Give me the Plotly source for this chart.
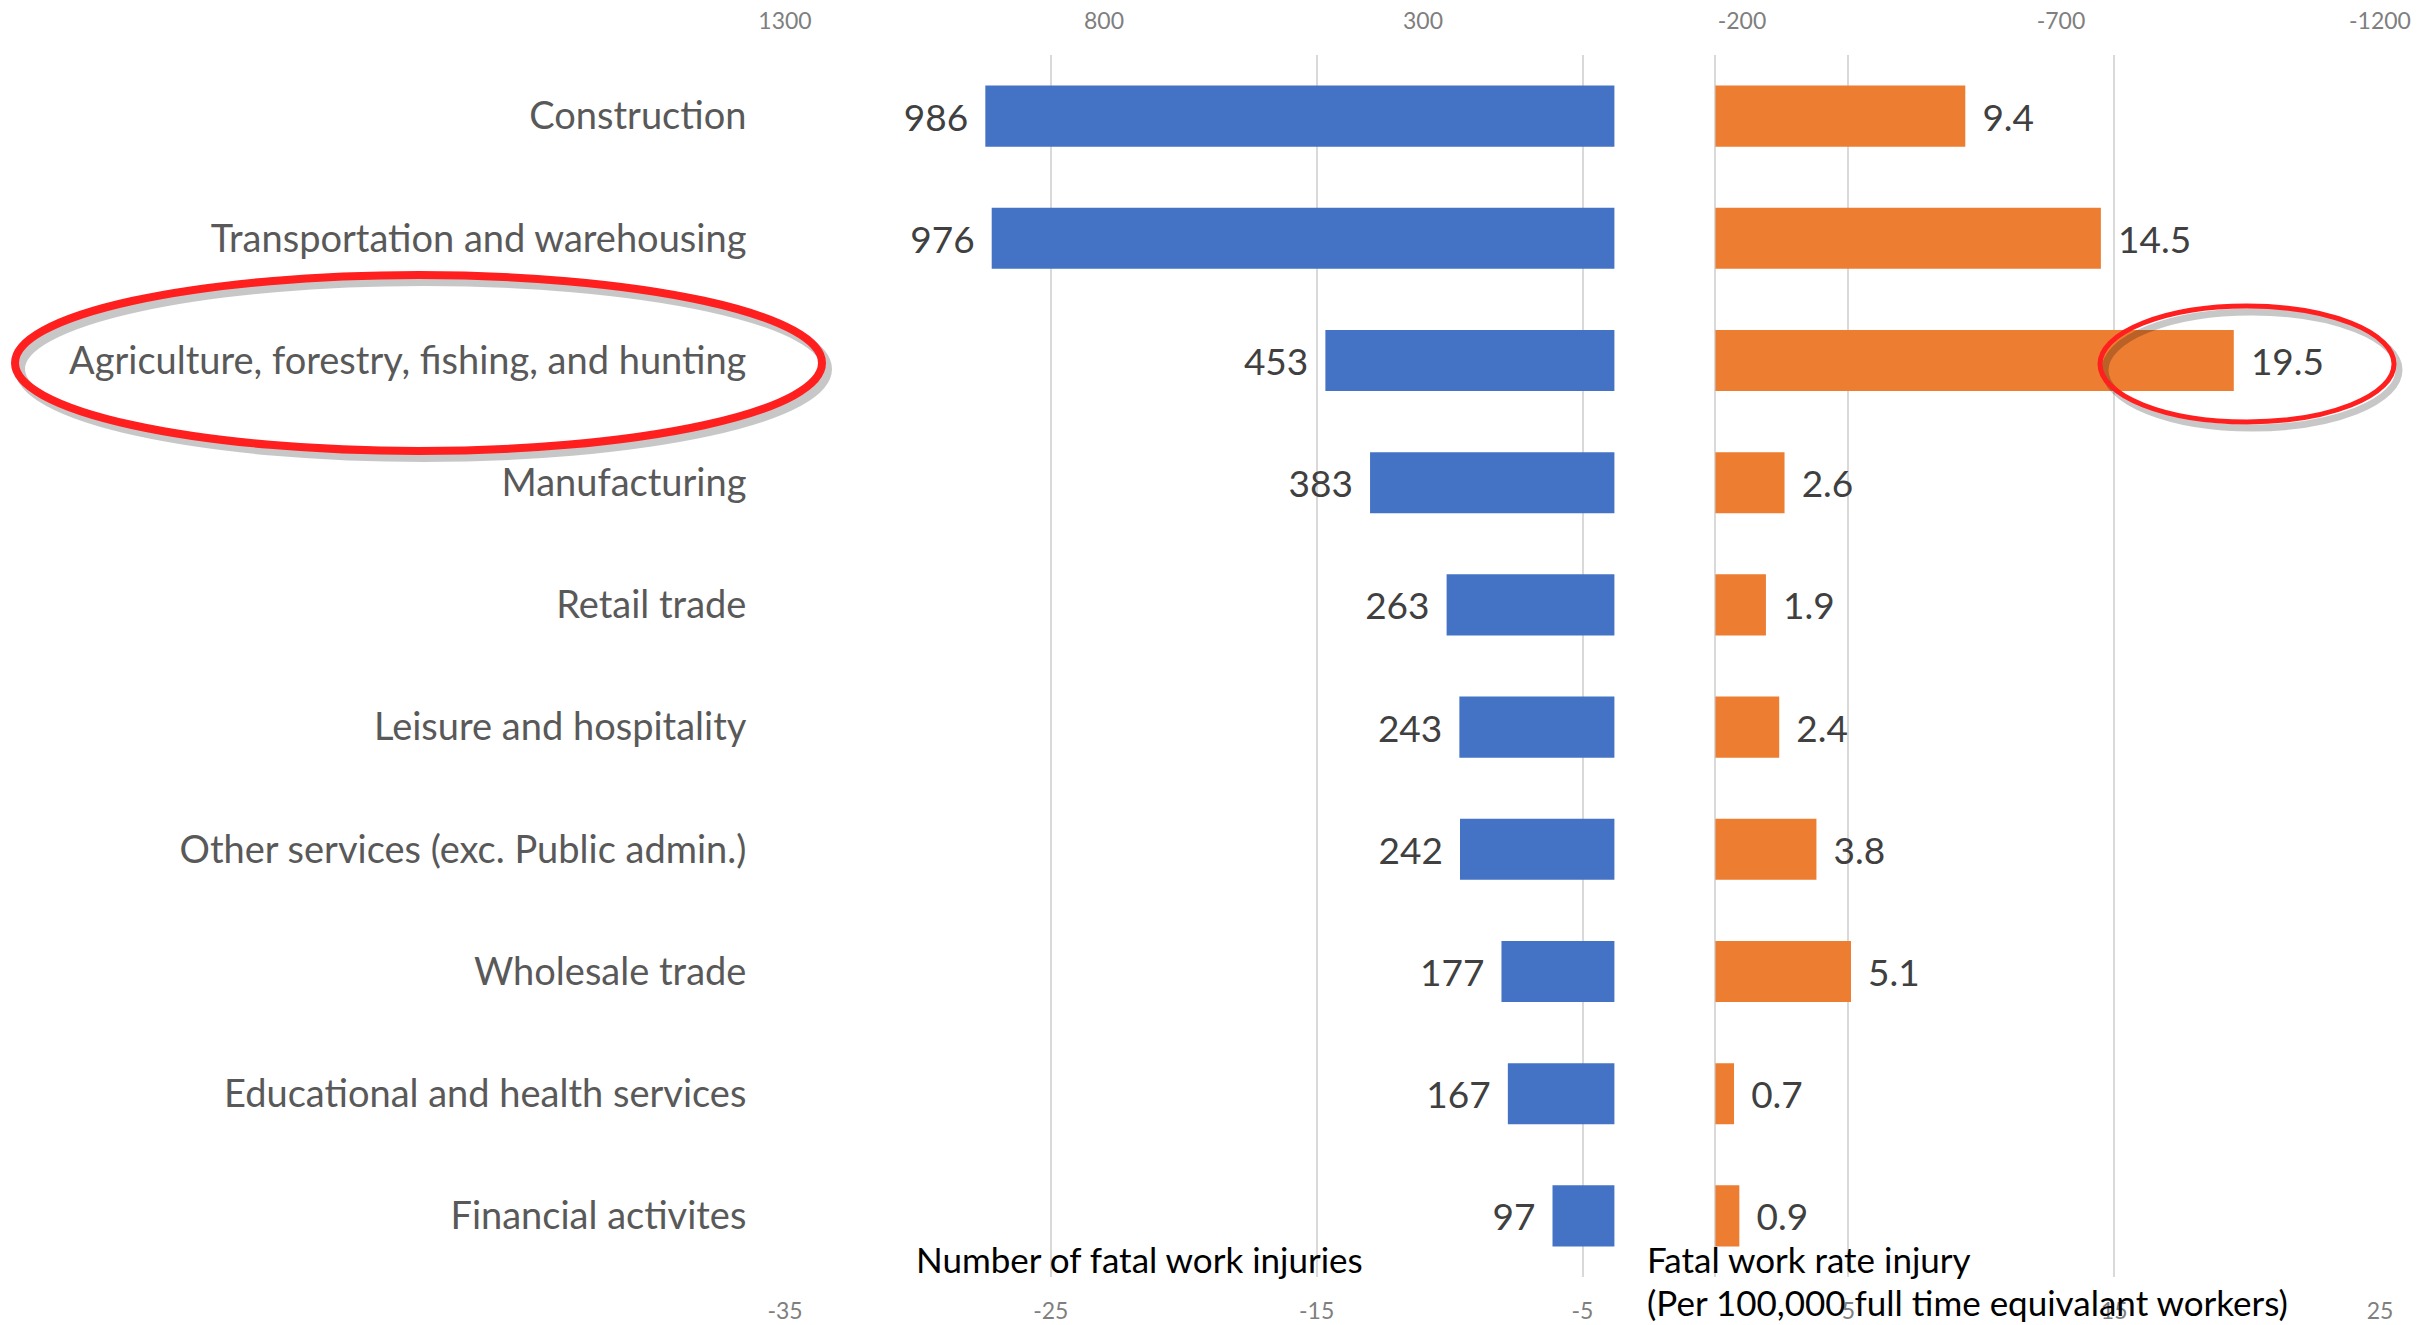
import plotly.graph_objects as go

industries = [
    "Construction",
    "Transportation and warehousing",
    "Agriculture, forestry, fishing, and hunting",
    "Manufacturing",
    "Retail trade",
    "Leisure and hospitality",
    "Other services (exc. Public admin.)",
    "Wholesale trade",
    "Educational and health services",
    "Financial activites",
]
fatal_injuries = [986, 976, 453, 383, 263, 243, 242, 177, 167, 97]
fatal_rate = [9.4, 14.5, 19.5, 2.6, 1.9, 2.4, 3.8, 5.1, 0.7, 0.9]

top_ticks = [1300, 800, 300, -200, -700, -1200]
bottom_ticks = [-35, -25, -15, -5, 5, 15, 25]

BLUE = "#4472C4"
ORANGE = "#ED7D31"
FONT = "Lato"
GAP = "\u00a0\u2009"

fig = go.Figure()
fig.add_trace(go.Bar(
    y=industries, x=fatal_injuries, orientation="h", xaxis="x2", yaxis="y",
    marker=dict(color=BLUE, line=dict(width=0)),
    text=[f"{v}{GAP}" for v in fatal_injuries], textposition="outside",
    textfont=dict(family=FONT, size=37, color="#404040"),
    constraintext="none", cliponaxis=False, showlegend=False,
))
fig.add_trace(go.Bar(
    y=industries, x=fatal_rate, orientation="h", xaxis="x", yaxis="y",
    marker=dict(color=ORANGE, line=dict(width=0)),
    text=[f"{GAP}{v}" for v in fatal_rate], textposition="outside",
    textfont=dict(family=FONT, size=37, color="#404040"),
    constraintext="none", cliponaxis=False, showlegend=False,
))

L, R, T, B = 785, 42, 55, 48
W, H = 2422, 1325
pw, ph = W - L - R, H - T - B

def px(x):
    return (x - L) / pw

def py(y):
    return (H - B - y) / ph

fig.update_layout(
    width=W, height=H,
    margin=dict(l=L, r=R, t=T, b=B, pad=0, autoexpand=False),
    paper_bgcolor="white", plot_bgcolor="white",
    barmode="overlay", bargap=0.5,
    font=dict(family=FONT, color="#595959"),
    xaxis=dict(
        range=[bottom_ticks[0], bottom_ticks[-1]], automargin=False,
        tickvals=bottom_ticks, ticktext=[str(t) for t in bottom_ticks],
        showgrid=True, gridcolor="#d9d9d9", gridwidth=2,
        zeroline=True, zerolinecolor="#d9d9d9", zerolinewidth=2,
        showline=False, ticks="outside", ticklen=13, tickcolor="rgba(0,0,0,0)",
        tickfont=dict(family=FONT, size=23, color="#7f7f7f"),
    ),
    xaxis2=dict(
        overlaying="x", side="top", automargin=False,
        range=[top_ticks[0], top_ticks[-1]],
        tickvals=top_ticks, ticktext=[str(t) for t in top_ticks],
        showgrid=False, zeroline=False, showline=False,
        ticks="outside", ticklen=16, tickcolor="rgba(0,0,0,0)",
        tickfont=dict(family=FONT, size=23, color="#7f7f7f"),
    ),
    yaxis=dict(
        type="category", range=[len(industries) - 0.5, -0.5], automargin=False,
        showgrid=False, zeroline=False, showline=False,
        ticks="outside", ticklen=30, tickcolor="rgba(0,0,0,0)",
        tickfont=dict(family=FONT, size=38, color="#595959"),
    ),
)

# hand-drawn style highlight ellipses (with a soft shadow)
for (x0, y0, x1, y1, w) in [(15, 275, 822, 451, 8), (2100, 306, 2394, 422, 5)]:
    fig.add_shape(type="circle", xref="paper", yref="paper",
                  x0=px(x0 + 5), x1=px(x1 + 5), y0=py(y0 + 6), y1=py(y1 + 6),
                  line=dict(color="rgba(0,0,0,0.22)", width=w + 2), layer="above")
    fig.add_shape(type="circle", xref="paper", yref="paper",
                  x0=px(x0), x1=px(x1), y0=py(y0), y1=py(y1),
                  line=dict(color="#FF1F1F", width=w), layer="above")

ann_font = dict(family=FONT, size=35, color="black")
fig.add_annotation(text="Number of fatal work injuries", xref="paper", yref="paper",
                   x=px(914), y=py(1259), xanchor="left", yanchor="middle",
                   showarrow=False, font=ann_font)
fig.add_annotation(text="Fatal work rate injury", xref="paper", yref="paper",
                   x=px(1645), y=py(1259), xanchor="left", yanchor="middle",
                   showarrow=False, font=ann_font)
fig.add_annotation(text="(Per 100,000 full time equivalant workers)", xref="paper", yref="paper",
                   x=px(1645), y=py(1302), xanchor="left", yanchor="middle",
                   showarrow=False, font=ann_font)

fig.write_html("out.html")
